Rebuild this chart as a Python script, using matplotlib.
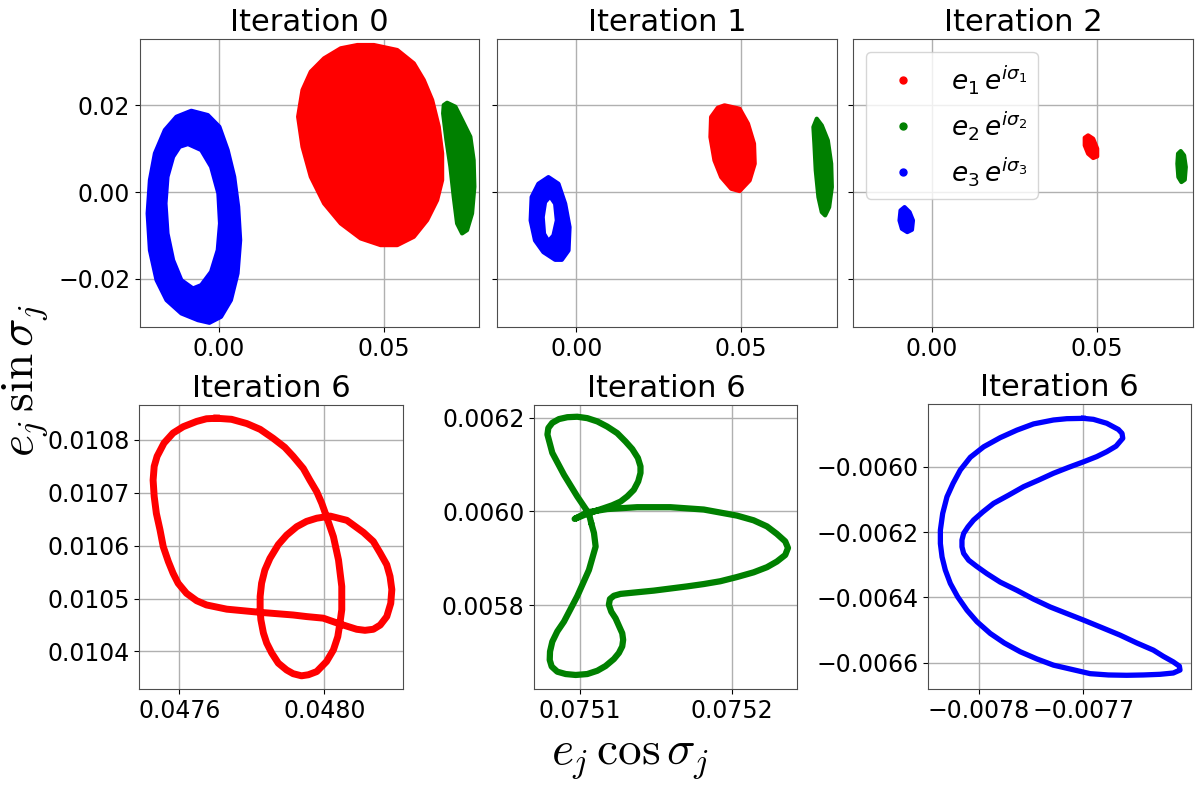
import matplotlib
matplotlib.use("Agg")
import matplotlib.pyplot as plt
from matplotlib.path import Path
from matplotlib.patches import PathPatch
from matplotlib.lines import Line2D
from matplotlib.ticker import FuncFormatter

# ---- iteration 0 (top left) ----
it0_blue_out_x = [-0.00843, -0.0034, 0.0001, 0.00262, 0.00461, 0.00581, 0.00642, 0.00563, 0.00361, 0.0006,
                  -0.00292, -0.00642, -0.01145, -0.01596, -0.01898, -0.021, -0.02169, -0.021, -0.01948,
                  -0.01647, -0.01295]
it0_blue_out_y = [0.01875, 0.01776, 0.01507, 0.00969, 0.00353, -0.00339, -0.01107, -0.01875, -0.02491, -0.02876,
                  -0.03014, -0.02953, -0.02798, -0.02491, -0.0203, -0.01338, -0.00492, 0.00277, 0.00893,
                  0.0143, 0.01737]
it0_blue_in_x = [-0.00943, -0.00542, -0.00241, -0.0002, 0.0003, -0.00039, -0.00241, -0.00542,
                 -0.00792, -0.01145, -0.01395, -0.01566, -0.01627, -0.01566, -0.01395, -0.01196]
it0_blue_in_y = [0.01107, 0.00969, 0.00584, -0.0003, -0.00722, -0.01338, -0.01838, -0.02145,
                 -0.02222, -0.0203, -0.01569, -0.00953, -0.00261, 0.00353, 0.00814, 0.01045]
it0_red_x = [0.04706, 0.05415, 0.05918, 0.06221, 0.06476, 0.06676, 0.06779, 0.06779, 0.06627, 0.06324, 0.05918,
             0.05415, 0.04909, 0.04303, 0.03697, 0.03191, 0.02788, 0.02536, 0.02403, 0.02536, 0.02788, 0.03191,
             0.03697, 0.04203]
it0_red_y = [0.03391, 0.03276, 0.02969, 0.02584, 0.02122, 0.01507, 0.00893, 0.00277, -0.00185, -0.00646, -0.01031,
             -0.01223, -0.01223, -0.01069, -0.00723, -0.00261, 0.00353, 0.01045, 0.01737, 0.02353, 0.02776, 0.03084,
             0.03315, 0.03391]
it0_green_x = [0.0693, 0.07182, 0.07385, 0.07636, 0.07736, 0.07758, 0.07688, 0.07536,
               0.07385, 0.07233, 0.07131, 0.0703, 0.06909, 0.06809, 0.06828]
it0_green_y = [0.0206, 0.01968, 0.01661, 0.01276, 0.00738, 0.00122, -0.00492, -0.00877,
               -0.00953, -0.00723, -0.00108, 0.00584, 0.012, 0.01815, 0.02007]

# ---- iteration 1 ----
it1_blue_out_x = [-0.00843, -0.00539, -0.00335, -0.00203, -0.00234, -0.00437, -0.0064, -0.00996, -0.0125, -0.01382, -0.01352, -0.01148]
it1_blue_out_y = [0.00346, 0.00192, -0.00269, -0.00808, -0.01346, -0.01562, -0.01562, -0.01385, -0.01115, -0.00654, -0.00115, 0.00192]
it1_blue_in_x = [-0.00793, -0.0064, -0.00589, -0.00691, -0.00843, -0.00976, -0.01016, -0.00945]
it1_blue_in_y = [-0.001, -0.00269, -0.00654, -0.01, -0.01131, -0.00962, -0.00577, -0.00231]
it1_red_x = [0.04492, 0.04949, 0.05203, 0.05386, 0.05407, 0.05254, 0.04949, 0.04695, 0.0439, 0.04187, 0.04065, 0.04085, 0.04289]
it1_red_y = [0.02, 0.01923, 0.01577, 0.01115, 0.00654, 0.00269, 0.00023, 0.00077, 0.00346, 0.00731, 0.01269, 0.01731, 0.01946]
it1_green_x = [0.07287, 0.07439, 0.07622, 0.07724, 0.07744, 0.07663, 0.07541, 0.07439, 0.07337, 0.07256, 0.07215, 0.07185]
it1_green_y = [0.01692, 0.01538, 0.01192, 0.00654, 0.00115, -0.00346, -0.00538, -0.00462, -0.00115, 0.005, 0.01115, 0.015]

# ---- iteration 2 ----
it2_red_x = [0.04724, 0.04878, 0.05, 0.05, 0.04878, 0.04724, 0.04622, 0.04622]
it2_red_y = [0.01308, 0.01231, 0.01, 0.00823, 0.00785, 0.00885, 0.01077, 0.01254]
it2_green_x = [0.07531, 0.07633, 0.07684, 0.07653, 0.07551, 0.07459, 0.07429, 0.07449]
it2_green_y = [0.00946, 0.00846, 0.00577, 0.00285, 0.00231, 0.00346, 0.00654, 0.00885]
it2_blue_x = [-0.00837, -0.00684, -0.00582, -0.00612, -0.00755, -0.00918, -0.0099, -0.00959]
it2_blue_y = [-0.00346, -0.00462, -0.00654, -0.00869, -0.00923, -0.00846, -0.00654, -0.00423]

# ---- iteration 6, e1 ----
it6_e1_x = [0.047703, 0.047744, 0.047786, 0.047823, 0.047859, 0.047891, 0.047914, 0.047942, 0.04796, 0.047979,
            0.047993, 0.048006, 0.048025, 0.048039, 0.048048, 0.048048, 0.048043, 0.048037, 0.048025, 0.048006,
            0.047979, 0.047956, 0.047937, 0.047914, 0.047896, 0.047873, 0.047855, 0.047841, 0.047832, 0.047825,
            0.047823, 0.047823, 0.047827, 0.047836, 0.04785, 0.047873, 0.047896, 0.047924, 0.047951, 0.047979,
            0.048016, 0.048062, 0.048108, 0.048135, 0.048154, 0.048172, 0.048181, 0.048186, 0.048183, 0.048172,
            0.048154, 0.048135, 0.048112, 0.048089, 0.048043, 0.047997, 0.047951, 0.047914, 0.047823, 0.047731,
            0.047675, 0.047648, 0.04762, 0.047597, 0.047583, 0.04757, 0.047556, 0.047547, 0.047537, 0.047531,
            0.047528, 0.047531, 0.047539, 0.047558, 0.047583, 0.047611, 0.047648, 0.047675, 0.047703]
it6_e1_y = [0.010841, 0.010839, 0.010831, 0.01082, 0.010803, 0.010786, 0.010769, 0.010746, 0.010724, 0.010702,
            0.01068, 0.010655, 0.010617, 0.010573, 0.010523, 0.010479, 0.010454, 0.010428, 0.010403, 0.010381,
            0.010362, 0.010356, 0.010354, 0.010358, 0.010365, 0.010378, 0.010397, 0.010416, 0.010435, 0.01046,
            0.010479, 0.010504, 0.010529, 0.010554, 0.010576, 0.010602, 0.01062, 0.010636, 0.010646, 0.010652,
            0.010656, 0.010648, 0.010625, 0.010608, 0.010586, 0.010564, 0.010542, 0.010517, 0.010491, 0.010466,
            0.01045, 0.010442, 0.01044, 0.010442, 0.010452, 0.010463, 0.010466, 0.010469, 0.010474, 0.01048,
            0.010488, 0.010496, 0.01051, 0.010529, 0.010548, 0.01057, 0.010598, 0.01063, 0.010661, 0.010693,
            0.010724, 0.01075, 0.010769, 0.010794, 0.010813, 0.010825, 0.010835, 0.01084, 0.010841]

# ---- iteration 6, e2 ----
it6_e2_x = [0.0751074, 0.0751059, 0.0750982, 0.0750895, 0.0750818, 0.0750786, 0.0750792, 0.0750818, 0.0750862,
            0.0750917, 0.0750982, 0.0751048, 0.0751114, 0.0751179, 0.0751245, 0.07513, 0.0751344, 0.0751381,
            0.0751398, 0.0751398, 0.0751383, 0.0751354, 0.0751311, 0.0751267, 0.0751212, 0.0751158, 0.0751048,
            0.0750965, 0.0751048, 0.0751179, 0.0751376, 0.0751595, 0.0751814, 0.0752033, 0.0752142, 0.075223,
            0.0752295, 0.075235, 0.0752368, 0.075235, 0.0752295, 0.075223, 0.0752142, 0.0752033, 0.0751923,
            0.0751814, 0.0751705, 0.0751486, 0.0751267, 0.0751223, 0.0751197, 0.075119, 0.0751206, 0.0751234,
            0.0751278, 0.0751284, 0.0751278, 0.0751256, 0.0751223, 0.0751168, 0.0751114, 0.0751048, 0.0750972,
            0.0750906, 0.0750851, 0.0750814, 0.0750801, 0.0750803, 0.0750818, 0.0750851, 0.0750895, 0.0750982,
            0.0751059, 0.0751103, 0.0751092, 0.0751074]
it6_e2_y = [0.005975, 0.005995, 0.006032, 0.006078, 0.006125, 0.006164, 0.006178, 0.006189, 0.006197,
            0.006201, 0.006202, 0.006199, 0.006192, 0.006181, 0.006167, 0.006149, 0.006133, 0.006114,
            0.006096, 0.006082, 0.006064, 0.006046, 0.006032, 0.006021, 0.006013, 0.006007, 0.005995,
            0.005984, 0.005998, 0.006005, 0.006009, 0.006009, 0.006004, 0.005991, 0.005981, 0.005968,
            0.005952, 0.005936, 0.005922, 0.005907, 0.005893, 0.005881, 0.00587, 0.00586, 0.005851,
            0.005845, 0.00584, 0.005831, 0.005824, 0.00582, 0.005813, 0.005801, 0.005786, 0.005772,
            0.00574, 0.005726, 0.005712, 0.005698, 0.005685, 0.00567, 0.00566, 0.005653, 0.005651,
            0.005653, 0.005658, 0.005669, 0.005683, 0.005701, 0.005722, 0.005744, 0.005765, 0.005819,
            0.005875, 0.005925, 0.005954, 0.005975]

# ---- iteration 6, e3 ----
it6_e3_x = [-0.0077, -0.0077159, -0.0077286, -0.0077476, -0.0077635, -0.0077794, -0.0077952, -0.0078079,
            -0.0078175, -0.0078244, -0.0078302, -0.0078343, -0.0078365, -0.0078365, -0.0078349, -0.0078318,
            -0.007827, -0.00782, -0.0078111, -0.0078016, -0.0077889, -0.0077756, -0.0077603, -0.0077444,
            -0.0077286, -0.0077111, -0.0076936, -0.0076762, -0.0076587, -0.0076428, -0.007627, -0.0076143,
            -0.0076079, -0.0076085, -0.0076143, -0.0076238, -0.0076333, -0.0076492, -0.0076651, -0.0076825,
            -0.0077, -0.0077159, -0.0077317, -0.0077476, -0.0077635, -0.0077794, -0.0077921, -0.0078022,
            -0.0078095, -0.0078143, -0.0078159, -0.0078159, -0.0078143, -0.0078102, -0.0078048, -0.0077959,
            -0.0077857, -0.0077714, -0.0077571, -0.0077429, -0.0077286, -0.0077143, -0.0077, -0.0076873,
            -0.0076778, -0.0076689, -0.0076625, -0.0076632, -0.0076667, -0.0076778, -0.0076905, -0.0077]
it6_e3_y = [-0.005852, -0.005853, -0.005857, -0.005869, -0.005888, -0.005911, -0.005939, -0.005971,
            -0.00601, -0.006051, -0.006092, -0.006143, -0.006194, -0.006235, -0.006276, -0.006316,
            -0.006357, -0.006398, -0.006439, -0.006474, -0.00651, -0.006539, -0.006566, -0.006588,
            -0.006607, -0.00662, -0.006633, -0.006637, -0.006638, -0.006637, -0.006635, -0.006631,
            -0.006622, -0.00661, -0.006597, -0.00658, -0.006561, -0.006539, -0.006515, -0.006492,
            -0.006469, -0.006449, -0.006429, -0.006405, -0.006378, -0.006353, -0.006327, -0.006304,
            -0.006286, -0.006265, -0.006245, -0.006224, -0.006204, -0.006184, -0.006163, -0.006138,
            -0.006112, -0.006087, -0.006061, -0.006041, -0.00602, -0.006002, -0.005985, -0.005969,
            -0.005954, -0.005937, -0.005913, -0.005898, -0.005886, -0.005867, -0.005855, -0.005852]

legend_labels = [r"$e_1\,e^{i\sigma_1}$", r"$e_2\,e^{i\sigma_2}$", r"$e_3\,e^{i\sigma_3}$"]
titles_top = ["Iteration 0", "Iteration 1", "Iteration 2"]


def minus_fmt(fmt):
    return FuncFormatter(lambda v, p: (fmt % v).replace("-", "\u2212"))


def blob(ax, xs, ys, color):
    ax.fill(xs, ys, color=color, lw=3, joinstyle="round", zorder=3)


def ring(ax, ox, oy, ix, iy, color):
    outer = list(zip(ox, oy))
    inner = list(zip(ix, iy))[::-1]
    verts = outer + [outer[0]] + inner + [inner[0]]
    codes = ([Path.MOVETO] + [Path.LINETO] * (len(outer) - 1) + [Path.CLOSEPOLY] +
             [Path.MOVETO] + [Path.LINETO] * (len(inner) - 1) + [Path.CLOSEPOLY])
    ax.add_patch(PathPatch(Path(verts, codes), facecolor=color, edgecolor=color,
                           lw=3, joinstyle="round", zorder=3))


def style(ax):
    ax.grid(True, color="#b0b0b0", lw=1)
    ax.set_axisbelow(True)
    ax.tick_params(labelsize=17)
    for s in ax.spines.values():
        s.set_color("0.3")


fig = plt.figure(figsize=(12, 7.94), dpi=100)

top_axes = [fig.add_axes([0.1167, 0.5882, 0.2825, 0.3627]),
            fig.add_axes([0.4142, 0.5882, 0.2833, 0.3627]),
            fig.add_axes([0.7108, 0.5882, 0.2833, 0.3627])]
bot_axes = [fig.add_axes([0.1161, 0.1322, 0.2195, 0.3577]),
            fig.add_axes([0.4453, 0.1322, 0.2192, 0.3577]),
            fig.add_axes([0.7736, 0.1318, 0.2189, 0.3590])]

a0, a1, a2 = top_axes
ring(a0, it0_blue_out_x, it0_blue_out_y, it0_blue_in_x, it0_blue_in_y, "blue")
blob(a0, it0_red_x, it0_red_y, "red")
blob(a0, it0_green_x, it0_green_y, "green")

ring(a1, it1_blue_out_x, it1_blue_out_y, it1_blue_in_x, it1_blue_in_y, "blue")
blob(a1, it1_red_x, it1_red_y, "red")
blob(a1, it1_green_x, it1_green_y, "green")

blob(a2, it2_red_x, it2_red_y, "red")
blob(a2, it2_green_x, it2_green_y, "green")
blob(a2, it2_blue_x, it2_blue_y, "blue")

for i, ax in enumerate(top_axes):
    style(ax)
    ax.set_xlim(-0.024, 0.079)
    ax.set_ylim(-0.0311, 0.0353)
    ax.set_xticks([0.0, 0.05])
    ax.set_yticks([-0.02, 0.0, 0.02])
    ax.xaxis.set_major_formatter(minus_fmt("%.2f"))
    ax.yaxis.set_major_formatter(minus_fmt("%.2f"))
    if i > 0:
        ax.tick_params(labelleft=False)
    ax.set_title(titles_top[i], fontsize=22)

handles = [Line2D([], [], ls="none", marker="o", ms=5, color=c) for c in ["red", "green", "blue"]]
a2.legend(handles, legend_labels, loc="upper left", fontsize=19)

b0, b1, b2 = bot_axes
b0.plot(it6_e1_x, it6_e1_y, color="red", lw=5, solid_joinstyle="round")
b1.plot(it6_e2_x, it6_e2_y, color="green", lw=4.5, solid_joinstyle="round", solid_capstyle="round")
b2.plot(it6_e3_x, it6_e3_y, color="blue", lw=3.8, solid_joinstyle="round")

b0.set_xlim(0.04749, 0.048216)
b0.set_ylim(0.010329, 0.010866)
b0.set_xticks([0.0476, 0.0480])
b0.set_yticks([0.0104, 0.0105, 0.0106, 0.0107, 0.0108])

b1.set_xlim(0.07507, 0.075243)
b1.set_ylim(0.005621, 0.006227)
b1.set_xticks([0.0751, 0.0752])
b1.set_yticks([0.0058, 0.0060, 0.0062])

b2.set_xlim(-0.007848, -0.0075974)
b2.set_ylim(-0.006681, -0.005809)
b2.set_xticks([-0.0078, -0.0077])
b2.set_yticks([-0.0066, -0.0064, -0.0062, -0.0060])

for ax in bot_axes:
    style(ax)
    ax.xaxis.set_major_formatter(minus_fmt("%.4f"))
    ax.yaxis.set_major_formatter(minus_fmt("%.4f"))
    ax.set_title("Iteration 6", fontsize=22)

fig.text(0.022, 0.52, r"$e_j\,\sin\sigma_j$", rotation=90, fontsize=34,
         math_fontfamily="cm", ha="center", va="center")
fig.text(0.525, 0.043, r"$e_j\,\cos\sigma_j$", fontsize=34,
         math_fontfamily="cm", ha="center", va="center")

fig.savefig("out.png", dpi=100)
